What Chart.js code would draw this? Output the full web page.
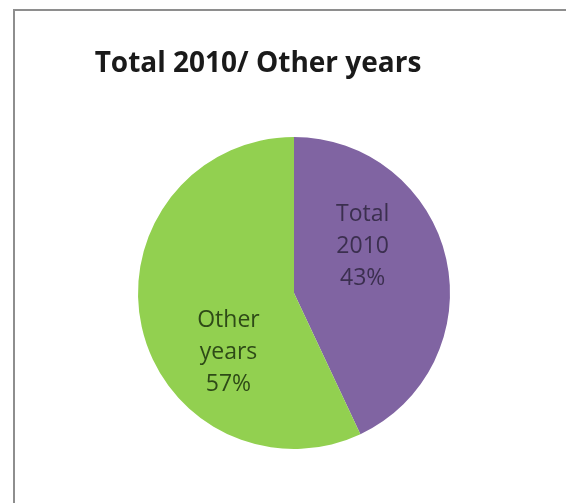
<!DOCTYPE html>
<html>
<head>
<meta charset="utf-8">
<script src="https://cdn.jsdelivr.net/npm/chart.js@4/dist/chart.umd.min.js"></script>
<style>
  html, body { margin: 0; padding: 0; background: #fff; }
  #wrap { position: relative; width: 566px; height: 503px; overflow: hidden; }
  #frame {
    position: absolute; left: 13px; top: 9px; width: 600px; height: 600px;
    border-left: 2px solid #8e8e8e; border-top: 2px solid #8e8e8e;
  }
  canvas { position: absolute; left: 0; top: 0; }
</style>
</head>
<body>
<div id="wrap">
  <div id="frame"></div>
  <canvas id="pie" width="566" height="503"></canvas>
</div>
<script>
const titleText = 'Total 2010/ Other years';
const categories = ['Total 2010', 'Other years'];
const labelLines = [['Total', '2010'], ['Other', 'years']];
const values = [43, 57];
const colors = ['#8064a2', '#92d050'];
const labelColors = ['#3b2f4f', '#2e4a17'];

// data labels placed inside each slice, offsets in units of the pie radius
const sliceLabels = {
  id: 'sliceLabels',
  afterDatasetsDraw(chart, args, opts) {
    const ctx = chart.ctx;
    const meta = chart.getDatasetMeta(0);
    const total = values.reduce((a, b) => a + b, 0);
    ctx.save();
    ctx.font = opts.font;
    ctx.textAlign = 'center';
    ctx.textBaseline = 'middle';
    meta.data.forEach((arc, i) => {
      const r = arc.outerRadius;
      const cx = arc.x + opts.offsets[i][0] * r;
      const cy = arc.y + opts.offsets[i][1] * r;
      const lines = labelLines[i].concat([Math.round(values[i] / total * 100) + '%']);
      ctx.fillStyle = labelColors[i];
      lines.forEach((line, j) => {
        ctx.fillText(line, cx, cy + (j - (lines.length - 1) / 2) * opts.lineHeight);
      });
    });
    ctx.restore();
  }
};

const freeTitle = {
  id: 'freeTitle',
  afterDraw(chart, args, opts) {
    const ctx = chart.ctx;
    ctx.save();
    ctx.font = opts.font;
    ctx.fillStyle = opts.color;
    ctx.textAlign = 'center';
    ctx.textBaseline = 'alphabetic';
    ctx.fillText(titleText, opts.x, opts.y);
    ctx.restore();
  }
};

new Chart(document.getElementById('pie'), {
  type: 'pie',
  data: {
    labels: categories,
    datasets: [{
      data: values,
      backgroundColor: colors,
      borderWidth: 0
    }]
  },
  options: {
    responsive: false,
    animation: false,
    layout: {
      padding: { left: 138, top: 137, right: 116, bottom: 54 }
    },
    plugins: {
      legend: { display: false },
      tooltip: { enabled: false },
      title: { display: false },
      sliceLabels: {
        font: '23px "Open Sans", sans-serif',
        lineHeight: 32,
        offsets: [[0.44, -0.30], [-0.42, 0.38]]
      },
      freeTitle: {
        font: 'bold 28px "Open Sans", sans-serif',
        color: '#1a1a1a',
        x: 258,
        y: 72
      }
    }
  },
  plugins: [sliceLabels, freeTitle]
});
</script>
</body>
</html>
